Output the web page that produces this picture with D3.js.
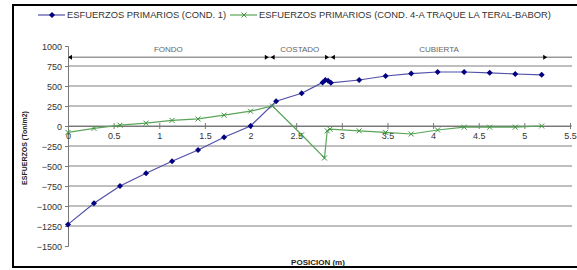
<!DOCTYPE html>
<html>
<head>
<meta charset="utf-8">
<script src="https://cdn.jsdelivr.net/npm/d3@7"></script>
<style>
  body { margin: 0; background: #fff; }
  svg { display: block; font-family: 'Liberation Sans', Arial, sans-serif; }
  .axis text { font-size: 9px; fill: #333; }
  .axis path, .axis line { stroke: #777; }
</style>
</head>
<body>
<svg id="chart" width="577" height="270"></svg>
<script>
// series 1: esfuerzos primarios (cond. 1)
const posCond1 = [0, 0.285, 0.57, 0.855, 1.14, 1.425, 1.71, 2.0, 2.28, 2.56,
  2.79, 2.82, 2.85, 2.88, 3.19, 3.48, 3.76, 4.05, 4.34, 4.62, 4.9, 5.19];
const valCond1 = [-1230, -965, -750, -590, -440, -300, -140, 0, 310, 410,
  545, 575, 565, 540, 575, 625, 655, 675, 675, 665, 650, 640];

// series 2: cond. 4-A
const posCond4 = [0, 0.285, 0.57, 0.855, 1.14, 1.425, 1.71, 2.0, 2.24, 2.56,
  2.81, 2.84, 2.87, 3.19, 3.48, 3.76, 4.05, 4.34, 4.62, 4.9, 5.19];
const valCond4 = [-80, -30, 10, 35, 70, 88, 135, 185, 250, -110,
  -400, -60, -40, -60, -80, -100, -50, -15, -15, -15, 0];

const seriesNames = ['ESFUERZOS PRIMARIOS (COND. 1)',
  'ESFUERZOS PRIMARIOS (COND. 4-A TRAQUE LA TERAL-BABOR)'];

const xTicks = [0, 0.5, 1, 1.5, 2, 2.5, 3, 3.5, 4, 4.5, 5, 5.5];
const yTicks = [1000, 750, 500, 250, 0, -250, -500, -750, -1000, -1250, -1500];

// zones along the hull
const zoneNames = ['FONDO', 'COSTADO', 'CUBIERTA'];
const zoneFrom = [0, 2.22, 2.88];
const zoneTo = [2.2, 2.86, 5.25];
const zoneLevel = 860;

const svg = d3.select('#chart');

const x = d3.scaleLinear().domain([0, 5.5]).range([68, 570]);
const y = d3.scaleLinear().domain([1000, -1500]).range([46, 246]);

// frame
svg.append('rect')
    .attr('x', 13).attr('y', 5)
    .attr('width', 620).attr('height', 262)
    .attr('fill', 'none')
    .attr('stroke', '#000')
    .attr('stroke-width', 2);

// gridlines
svg.append('g')
  .selectAll('line')
    .data(yTicks.filter(v => v < 1000 && v > -1500))
  .enter().append('line')
    .attr('x1', x(0)).attr('x2', 572)
    .attr('y1', d => y(d)).attr('y2', d => y(d))
    .attr('stroke', '#aaa')
    .attr('stroke-width', 1.6);

// y axis
const yAxis = svg.append('g')
    .attr('class', 'axis')
    .attr('transform', `translate(${x(0)},0)`)
    .call(d3.axisLeft(y).tickValues(yTicks).tickSize(3).tickSizeOuter(3).tickPadding(3)
      .tickFormat(d3.format('d')));
yAxis.selectAll('text').attr('dy', '0.35em');

// x axis on the zero line
const xAxis = svg.append('g')
    .attr('class', 'axis')
    .attr('transform', `translate(0,${y(0)})`)
    .call(d3.axisBottom(x).tickValues(xTicks).tickSizeInner(3).tickSizeOuter(3).tickPadding(4)
      .tickFormat(d3.format('')));
xAxis.selectAll('.tick line').attr('y1', -3);
xAxis.select('.domain').attr('stroke', '#888');

// zone annotation line
svg.append('line')
    .attr('x1', x(0)).attr('x2', 572)
    .attr('y1', y(zoneLevel)).attr('y2', y(zoneLevel))
    .attr('stroke', '#999')
    .attr('stroke-width', 1.6);

const arrow = (px, dir) => {
  const py = y(zoneLevel);
  return `M${px},${py}L${px - dir * 4},${py - 2.5}L${px - dir * 4},${py + 2.5}Z`;
};

zoneNames.forEach((name, i) => {
  svg.append('path').attr('d', arrow(x(zoneFrom[i]), -1)).attr('fill', '#000');
  svg.append('path').attr('d', arrow(x(zoneTo[i]), 1)).attr('fill', '#000');
  svg.append('text')
      .attr('x', (x(zoneFrom[i]) + x(zoneTo[i])) / 2)
      .attr('y', y(zoneLevel) - 5)
      .attr('text-anchor', 'middle')
      .attr('font-size', 8)
      .attr('fill', '#666')
      .text(name);
});

// lines
const line = d3.line().x(d => x(d[0])).y(d => y(d[1]));
const cond1 = d3.zip(posCond1, valCond1);
const cond4 = d3.zip(posCond4, valCond4);

svg.append('path')
    .datum(cond4)
    .attr('d', line)
    .attr('fill', 'none')
    .attr('stroke', '#5aa55a')
    .attr('stroke-width', 1.2);

svg.append('path')
    .datum(cond1)
    .attr('d', line)
    .attr('fill', 'none')
    .attr('stroke', '#5050a8')
    .attr('stroke-width', 1.2);

const diamond = 'M0,-3L3,0L0,3L-3,0Z';
const cross = 'M-2.5,-2.5L2.5,2.5M-2.5,2.5L2.5,-2.5';

svg.selectAll('.x-mark')
    .data(cond4)
  .enter().append('path')
    .attr('class', 'x-mark')
    .attr('transform', d => `translate(${x(d[0])},${y(d[1])})`)
    .attr('d', cross)
    .attr('fill', 'none')
    .attr('stroke', '#3c963c')
    .attr('stroke-width', 1);

svg.selectAll('.dot')
    .data(cond1)
  .enter().append('path')
    .attr('class', 'dot')
    .attr('transform', d => `translate(${x(d[0])},${y(d[1])})`)
    .attr('d', diamond)
    .attr('fill', '#000080');

// legend
const legend = svg.append('g').attr('transform', 'translate(0,15)');
legend.append('line').attr('x1', 38).attr('x2', 65).attr('stroke', '#5050a8').attr('stroke-width', 1.2);
legend.append('path').attr('transform', 'translate(52,0)').attr('d', diamond).attr('fill', '#000080');
legend.append('text')
    .attr('x', 67).attr('y', 3)
    .attr('font-size', 9).attr('fill', '#333')
    .attr('textLength', 159).attr('lengthAdjust', 'spacingAndGlyphs')
    .text(seriesNames[0]);
legend.append('line').attr('x1', 230).attr('x2', 257).attr('stroke', '#5aa55a').attr('stroke-width', 1.2);
legend.append('path').attr('transform', 'translate(244,0)').attr('d', cross)
    .attr('fill', 'none').attr('stroke', '#3c963c');
legend.append('text')
    .attr('x', 259).attr('y', 3)
    .attr('font-size', 9).attr('fill', '#333')
    .attr('textLength', 292).attr('lengthAdjust', 'spacingAndGlyphs')
    .text(seriesNames[1]);

// axis titles
svg.append('text')
    .attr('transform', 'translate(27,148) rotate(-90)')
    .attr('text-anchor', 'middle')
    .attr('font-size', 7)
    .attr('font-weight', 'bold')
    .attr('fill', '#222')
    .text('ESFUERZOS (Ton/m2)');

svg.append('text')
    .attr('x', 318).attr('y', 265)
    .attr('text-anchor', 'middle')
    .attr('font-size', 8)
    .attr('font-weight', 'bold')
    .attr('fill', '#222')
    .text('POSICION (m)');
</script>
</body>
</html>
